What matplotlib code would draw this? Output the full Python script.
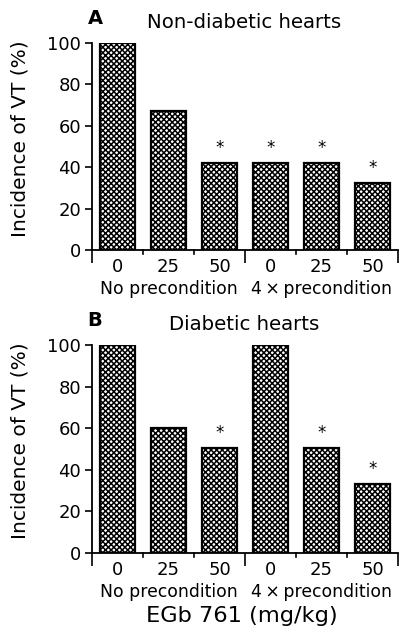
import matplotlib
matplotlib.use("Agg")
import matplotlib.pyplot as plt
from matplotlib.ticker import FixedLocator

plt.rcParams['font.family'] = ['DejaVu Sans']
plt.rcParams['hatch.linewidth'] = 1.1

# doses of EGb 761 per group (mg/kg)
dose_labels = ['0', '25', '50', '0', '25', '50']
group_labels = ['No precondition', '4\u2009\u00d7\u2009precondition']

# incidence of VT (%)
nondiabetic = [100, 67, 42, 42, 42, 32.5]
diabetic = [100, 60, 50.5, 100, 50.5, 33]

# significance markers
nondiabetic_sig = [False, False, True, True, True, True]
diabetic_sig = [False, False, True, False, True, True]

W, H = 399, 633
fig = plt.figure(figsize=(W / 100, H / 100), dpi=100)


def panel(top_px, bottom_px, values, sig, letter, title):
    ax = fig.add_axes([92 / W, (H - bottom_px) / H, 306 / W,
                       (bottom_px - top_px) / H])
    x = list(range(len(values)))
    ax.bar(x, values, width=0.7, color='white', edgecolor='black',
           linewidth=1.6, hatch='xxxxxx', zorder=2)
    for xi, v, s in zip(x, values, sig):
        if s:
            ax.text(xi, v + 3, '*', ha='center', va='bottom', fontsize=12)
    ax.set_xlim(-0.5, 5.5)
    ax.set_ylim(0, 100)
    ax.set_yticks([0, 20, 40, 60, 80, 100])
    ax.tick_params(axis='y', length=5, width=1.2, labelsize=13, pad=3)
    ax.set_xticks(x)
    ax.set_xticklabels(dose_labels, fontsize=13)
    ax.tick_params(axis='x', which='major', length=0, pad=6)
    # long ticks between groups, short ticks inside groups
    ax.xaxis.set_minor_locator(FixedLocator([-0.5, 2.5, 5.5]))
    ax.tick_params(axis='x', which='minor', length=9, width=1.2)
    for xs in [0.5, 1.5, 3.5, 4.5]:
        ax.plot([xs, xs], [0, -1.8], color='black', lw=1.2,
                clip_on=False, zorder=3)
    for sp in ['top', 'right']:
        ax.spines[sp].set_visible(False)
    for sp in ['left', 'bottom']:
        ax.spines[sp].set_linewidth(1.3)
    ax.set_ylabel('Incidence of VT (%)', fontsize=14.5)
    ax.yaxis.set_label_coords(-0.205, 0.54)
    for gx, gl in zip([1, 4], group_labels):
        ax.annotate(gl, xy=(gx, 0), xycoords=('data', 'axes fraction'),
                    xytext=(0, -28), textcoords='offset points',
                    ha='center', va='center', fontsize=12.4)
    fig.text(95 / W, 1 - (top_px - 25) / H, letter, fontsize=14,
             fontweight='bold', ha='center', va='center')
    fig.text(244 / W, 1 - (top_px - 21) / H, title, fontsize=14.2,
             ha='center', va='center')
    return ax


panel(43, 250, nondiabetic, nondiabetic_sig, 'A', 'Non-diabetic hearts')
panel(345, 553, diabetic, diabetic_sig, 'B', 'Diabetic hearts')
fig.text(242 / W, 1 - 616 / H, 'EGb 761 (mg/kg)', fontsize=16.2,
         ha='center', va='center')

fig.savefig('out.png', dpi=100)
